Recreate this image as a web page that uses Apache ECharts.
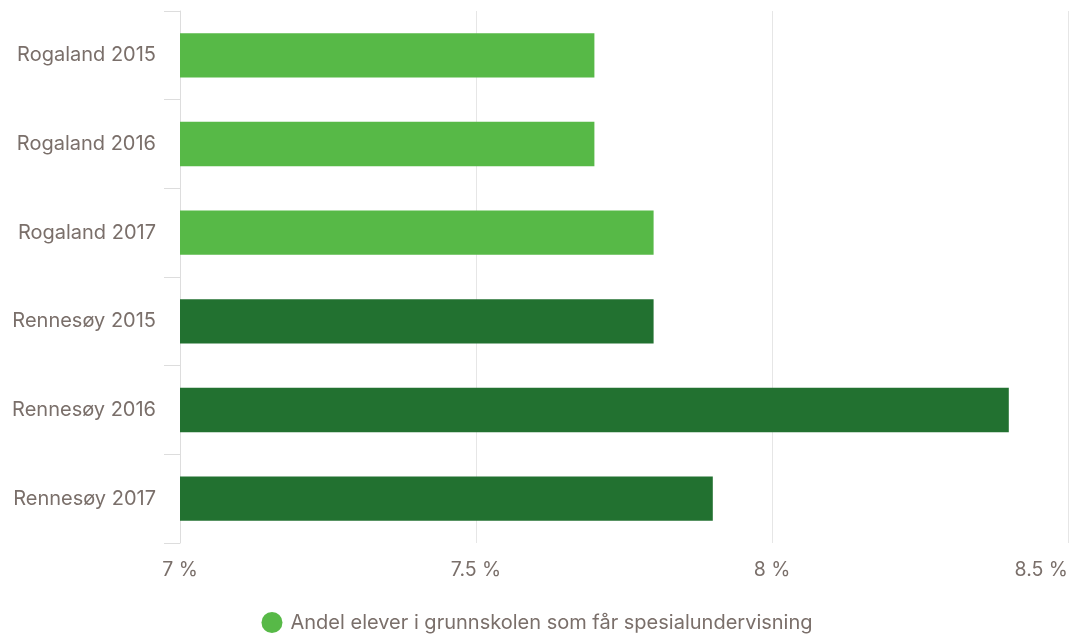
<!DOCTYPE html>
<html>
<head>
<meta charset="utf-8">
<script src="https://cdn.jsdelivr.net/npm/echarts@6/dist/echarts.min.js"></script>
<style>
html,body{margin:0;padding:0;background:#fff;}
#chart{width:1074px;height:639px;}
</style>
</head>
<body>
<div id="chart"></div>
<script>
const categories = ['Rogaland 2015','Rogaland 2016','Rogaland 2017','Rennesøy 2015','Rennesøy 2016','Rennesøy 2017'];
const values = [7.7, 7.7, 7.8, 7.8, 8.4, 7.9];
const seriesName = 'Andel elever i grunnskolen som får spesialundervisning';
const xTicks = { min: 7, max: 8.5, interval: 0.5 };

const LIGHT = '#57b947';
const DARK = '#227130';
const TEXT = '#7a6f6a';
const FONT = 'Inter, sans-serif';

const chart = echarts.init(document.getElementById('chart'), null, {renderer:'canvas'});
chart.setOption({
  animation: false,
  textStyle: { fontFamily: FONT },
  grid: { left: 180, right: 6, top: 11, bottom: 96, containLabel: false },
  legend: {
    show: true,
    bottom: 1,
    left: 'center',
    icon: 'circle',
    itemWidth: 21,
    itemHeight: 21,
    itemGap: 10,
    textStyle: { color: TEXT, fontSize: 20, fontFamily: FONT, padding: [0, 0, 0, 3] },
    data: [seriesName]
  },
  xAxis: {
    type: 'value',
    min: xTicks.min,
    max: xTicks.max,
    interval: xTicks.interval,
    axisLine: { show: false },
    axisTick: { show: false },
    splitLine: { show: true, lineStyle: { color: '#e6e6e6', width: 1 } },
    axisLabel: {
      color: TEXT, fontSize: 19.5, fontFamily: FONT, margin: 17,
      formatter: v => String(v) + ' %',
      alignMaxLabel: 'right'
    }
  },
  yAxis: {
    type: 'category',
    inverse: true,
    data: categories,
    axisLine: { show: true, lineStyle: { color: '#dddddd', width: 1 } },
    axisTick: { show: true, length: 16, lineStyle: { color: '#dddddd' } },
    axisLabel: { color: TEXT, fontSize: 20, fontFamily: FONT, margin: 24, padding: [3, 0, 0, 0] }
  },
  series: [{
    name: seriesName,
    type: 'bar',
    data: values,
    barWidth: '50%',
    itemStyle: {
      color: p => categories[p.dataIndex].startsWith('Rogaland') ? LIGHT : DARK
    }
  }],
  color: [LIGHT]
});
</script>
</body>
</html>
